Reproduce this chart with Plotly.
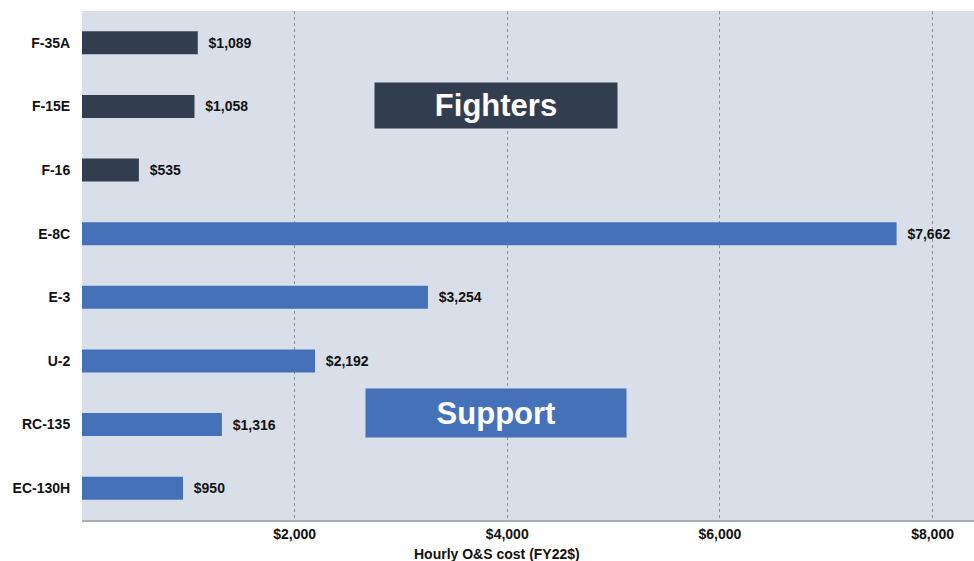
import plotly.graph_objects as go

aircraft = ["F-35A", "F-15E", "F-16", "E-8C", "E-3", "U-2", "RC-135", "EC-130H"]
cost = [1089, 1058, 535, 7662, 3254, 2192, 1316, 950]
group = ["Fighters", "Fighters", "Fighters", "Support", "Support", "Support", "Support", "Support"]
tick_vals = [2000, 4000, 6000, 8000]
tick_text = ["$2,000", "$4,000", "$6,000", "$8,000"]
axis_title = "Hourly O&S cost (FY22$)"

colors = {"Fighters": "#323e50", "Support": "#4571b8"}

fig = go.Figure()
fig.add_trace(go.Bar(
    x=cost, y=aircraft, orientation="h",
    marker=dict(color=[colors[g] for g in group], line=dict(width=0)),
    width=0.36,
    text=["\u00a0\u00a0<b>${:,}</b>".format(v) for v in cost],
    textposition="outside",
    texttemplate="%{text}",
    textfont=dict(family="Liberation Sans", size=14, color="#111111"),
    cliponaxis=False,
))

fig.update_layout(
    width=974, height=561,
    margin=dict(l=82, r=0, t=11, b=41, autoexpand=False),
    paper_bgcolor="white",
    plot_bgcolor="#d9dfe9",
    showlegend=False,
    uniformtext=dict(minsize=1),
    xaxis=dict(
        range=[0, 8390],
        tickvals=tick_vals, ticktext=["<b>%s</b>" % t for t in tick_text],
        showgrid=True, gridcolor="#8a8f99", griddash="dot", gridwidth=1,
        zeroline=False,
        showline=True, linecolor="#a9adb3", linewidth=1.5,
        ticks="",
        tickfont=dict(family="Liberation Sans", size=14, color="#111111"),
    ),
    yaxis=dict(
        autorange="reversed",
        tickvals=aircraft, ticktext=["<b>%s</b>" % a for a in aircraft],
        showgrid=False, zeroline=False, showline=False,
        ticks="outside", ticklen=8, tickcolor="rgba(0,0,0,0)",
        tickfont=dict(family="Liberation Sans", size=14, color="#111111"),
    ),
    font=dict(family="Liberation Sans"),
)

fig.add_annotation(
    x=(497 - 82) / 892, xref="paper", y=(520 - 554) / 509, yref="paper",
    xanchor="center", yanchor="middle",
    text="<b>%s</b>" % axis_title, showarrow=False,
    font=dict(family="Liberation Sans", size=14, color="#111111"),
)

for label, ypos, w, h, col in [("Fighters", 0.814, 242, 45, colors["Fighters"]),
                               ("Support", 0.210, 260, 48, colors["Support"])]:
    fig.add_annotation(
        x=3890, xref="x", y=ypos, yref="paper",
        xanchor="center", yanchor="middle",
        text="<b>%s</b>" % label, showarrow=False,
        font=dict(family="Liberation Sans", size=31, color="white"),
        bgcolor=col, width=w, height=h, align="center", valign="middle",
        borderpad=0,
    )

fig.write_html("out.html", config={"displayModeBar": False},
               post_script="document.body.style.margin='0';document.body.style.overflow='hidden';")
